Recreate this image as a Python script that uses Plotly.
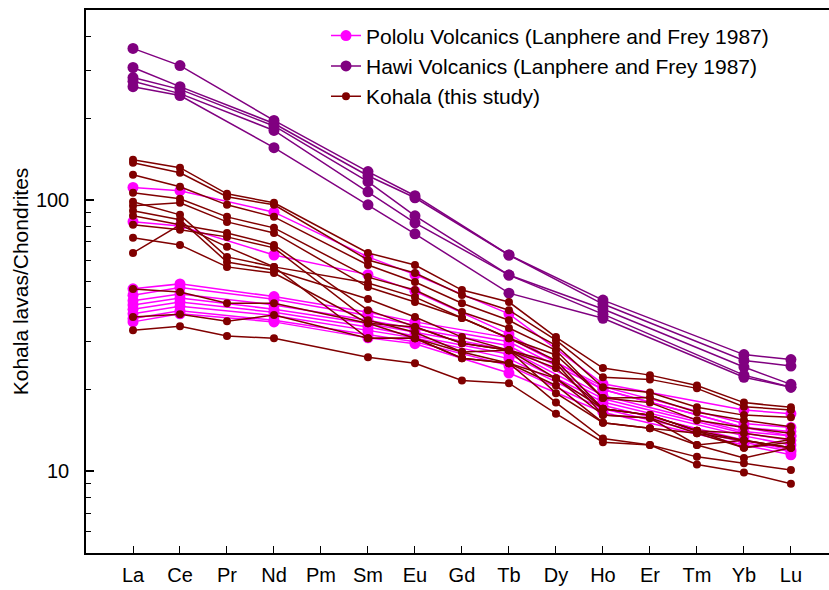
import plotly.graph_objects as go
import math

elements = ["La", "Ce", "Pr", "Nd", "Pm", "Sm", "Eu", "Gd", "Tb", "Dy", "Ho", "Er", "Tm", "Yb", "Lu"]

# Pololu and Hawi (Lanphere and Frey 1987) were analysed for a subset of REE
lf_elements = ["La", "Ce", "Nd", "Sm", "Eu", "Tb", "Ho", "Yb", "Lu"]

pololu = [
    [111.0, 108.0, 90.0, 61.6, 53.0, 38.0, 21.0, 16.8, 16.3],
    [83.0, 80.0, 62.6, 53.0, 46.0, 32.0, 20.0, 14.5, 13.5],
    [47.0, 49.0, 44.0, 38.5, 35.5, 31.0, 20.5, 15.0, 14.5],
    [44.5, 47.5, 43.0, 37.5, 34.5, 30.0, 20.0, 14.5, 14.0],
    [42.5, 45.0, 41.0, 36.0, 33.5, 29.0, 19.0, 14.0, 13.5],
    [41.0, 43.5, 39.5, 35.0, 32.5, 28.0, 18.5, 13.8, 13.0],
    [39.5, 42.0, 38.5, 34.0, 31.5, 27.0, 18.0, 13.5, 12.5],
    [38.0, 40.5, 37.5, 33.0, 31.0, 26.0, 17.5, 13.0, 12.0],
    [36.5, 39.0, 36.0, 32.0, 30.0, 24.5, 17.0, 12.8, 11.8],
    [35.5, 38.0, 35.5, 31.0, 29.5, 23.0, 16.5, 12.5, 11.5],
]

hawi = [
    [361.0, 312.0, 196.0, 127.0, 103.5, 62.6, 42.7, 26.9, 25.8],
    [307.0, 261.0, 191.0, 122.6, 101.7, 62.6, 41.3, 25.6, 24.4],
    [282.0, 255.0, 187.0, 116.6, 87.3, 52.8, 39.6, 24.2, 20.9],
    [273.0, 246.0, 180.0, 107.0, 82.2, 52.8, 37.9, 22.6, 20.4],
    [261.0, 242.0, 155.6, 95.8, 74.9, 45.3, 36.6, 22.2, 20.4],
]

# Kohala (this study): all REE except Pm
kohala_elements = ["La", "Ce", "Pr", "Nd", "Sm", "Eu", "Gd", "Tb", "Dy", "Ho", "Er", "Tm", "Yb", "Lu"]
kohala = [
    [140.5, 131.3, 105.2, 97.5, 63.7, 57.5, 46.5, 42.0, 31.2, 24.0, 22.6, 20.7, 17.9, 17.2],
    [137.0, 125.8, 102.6, 95.8, 60.0, 53.7, 44.6, 39.2, 30.4, 22.2, 21.8, 20.2, 17.3, 16.8],
    [123.7, 111.7, 95.8, 86.5, 57.5, 49.8, 41.6, 36.0, 29.1, 20.4, 19.5, 17.2, 16.1, 15.8],
    [106.1, 100.9, 86.5, 78.8, 51.9, 46.5, 38.6, 33.7, 27.9, 18.6, 18.7, 16.5, 15.4, 14.6],
    [98.3, 88.0, 61.6, 56.6, 49.4, 43.8, 36.7, 30.9, 26.8, 18.6, 17.9, 15.4, 14.5, 13.8],
    [95.0, 97.5, 82.9, 75.5, 47.7, 42.0, 36.7, 30.9, 25.6, 17.0, 16.1, 14.1, 13.8, 13.1],
    [91.1, 84.4, 59.0, 55.1, 43.1, 37.0, 31.2, 27.9, 25.0, 16.1, 15.7, 13.8, 13.0, 12.2],
    [87.3, 80.9, 75.5, 68.2, 39.2, 34.0, 29.6, 27.9, 24.0, 17.0, 16.1, 14.1, 12.2, 13.1],
    [80.9, 77.5, 73.0, 66.5, 36.0, 32.5, 27.5, 25.0, 22.0, 16.1, 15.7, 12.5, 13.0, 12.2],
    [72.4, 68.2, 56.6, 53.7, 35.1, 30.9, 26.1, 25.0, 20.7, 15.1, 14.4, 12.5, 11.2, 12.2],
    [63.7, 80.9, 67.1, 56.6, 30.9, 30.9, 27.5, 27.9, 19.4, 15.1, 14.4, 13.8, 12.2, 12.8],
    [46.9, 45.7, 41.6, 41.6, 35.1, 34.0, 29.6, 27.9, 22.0, 17.0, 16.1, 14.1, 13.0, 12.2],
    [37.0, 37.9, 35.7, 37.6, 30.9, 30.9, 26.1, 25.0, 17.9, 13.2, 12.5, 11.3, 10.7, 10.1],
    [33.1, 34.2, 31.5, 30.9, 26.3, 25.0, 21.6, 21.1, 16.3, 12.8, 12.5, 10.6, 9.9, 9.0],
]

y_major = [10, 100]
y_minor = [6, 7, 8, 9, 20, 30, 40, 50, 60, 70, 80, 90, 200, 300, 400]

groups = [
    ("Pololu Volcanics (Lanphere and Frey 1987)", lf_elements, pololu, "#FF00FF", 11),
    ("Hawi Volcanics (Lanphere and Frey 1987)", lf_elements, hawi, "#800080", 11),
    ("Kohala (this study)", kohala_elements, kohala, "#800000", 8),
]

fig = go.Figure()
for name, xs, series, color, msize in groups:
    for i, ys in enumerate(series):
        fig.add_trace(go.Scatter(
            x=xs, y=ys, mode="lines+markers", name=name,
            legendgroup=name, showlegend=(i == 0),
            line=dict(color=color, width=1.5),
            marker=dict(color=color, size=msize, symbol="circle"),
            hoverinfo="skip",
        ))

FONT = "Liberation Sans, Arial, sans-serif"

fig.update_layout(
    width=829, height=590,
    margin=dict(l=86, r=0, t=10, b=37, autoexpand=False),
    paper_bgcolor="white", plot_bgcolor="white",
    font=dict(family=FONT, size=19, color="black"),
    showlegend=True,
    legend=dict(
        x=0.323, y=0.990, xanchor="left", yanchor="top",
        bgcolor="rgba(0,0,0,0)", font=dict(size=21), tracegroupgap=0,
        itemwidth=30,
    ),
)

fig.update_xaxes(
    type="category", categoryorder="array", categoryarray=elements,
    tickmode="array", tickvals=elements, ticktext=elements,
    range=[-1, 14.81], showgrid=False, zeroline=False,
    showline=True, linecolor="black", linewidth=1.5, mirror=True,
    ticks="inside", ticklen=7, tickwidth=1, tickcolor="black",
    ticklabelstandoff=3, tickfont=dict(size=20),
)

fig.update_yaxes(
    type="log", range=[math.log10(5), math.log10(500)],
    tickmode="array", tickvals=y_major, ticktext=[str(v) for v in y_major],
    showgrid=False, zeroline=False,
    showline=True, linecolor="black", linewidth=1.5, mirror=False,
    ticks="inside", ticklen=8, tickwidth=1.5, tickcolor="black",
    ticklabelstandoff=11, tickfont=dict(size=20),
    minor=dict(tickmode="array", tickvals=y_minor, ticks="inside",
               ticklen=5, tickwidth=1, tickcolor="black", showgrid=False),
    title=dict(text="Kohala lavas/Chondrites", font=dict(size=21), standoff=2),
)

fig.write_html("out.html")
